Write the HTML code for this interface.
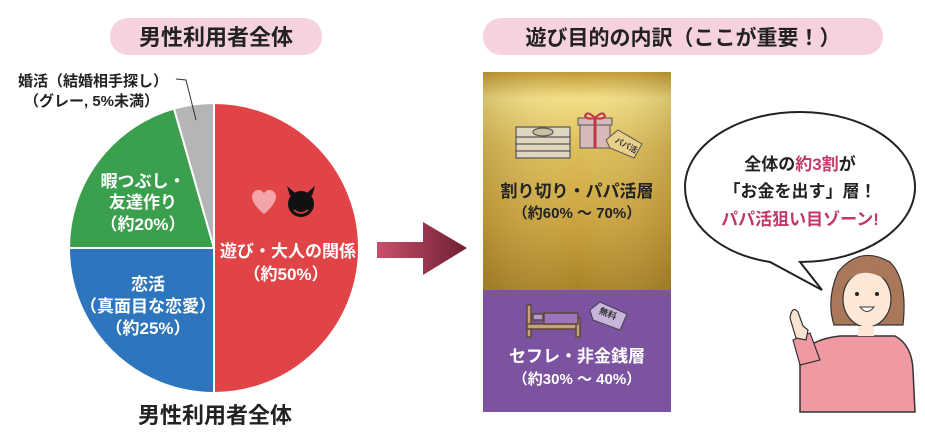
<!DOCTYPE html>
<html><head><meta charset="utf-8"><style>
body{margin:0;background:#fff;}
svg text{font-family:"Liberation Sans","Noto Sans CJK JP",sans-serif;font-weight:bold;}
</style></head><body>
<svg width="925" height="442" viewBox="0 0 925 442" xmlns="http://www.w3.org/2000/svg">
<defs>
<linearGradient id="gold" x1="0" y1="0" x2="0" y2="1">
<stop offset="0" stop-color="#c29a32"/><stop offset="0.12" stop-color="#f2de86"/><stop offset="0.35" stop-color="#ddbd58"/><stop offset="0.7" stop-color="#c9a23c"/><stop offset="1" stop-color="#a88327"/>
</linearGradient>
<linearGradient id="goldh" x1="0" y1="0" x2="1" y2="0">
<stop offset="0" stop-color="#6a4d10" stop-opacity="0.2"/><stop offset="0.5" stop-color="#fff" stop-opacity="0"/><stop offset="1" stop-color="#6a4d10" stop-opacity="0.2"/>
</linearGradient>
<linearGradient id="arr" x1="0" y1="0" x2="1" y2="0">
<stop offset="0" stop-color="#c8506a"/><stop offset="1" stop-color="#6e1f34"/>
</linearGradient>
</defs>
<rect x="110" y="18" width="212" height="37" rx="18" fill="#f6d3dc"/>
<text x="216" y="45" font-size="22" text-anchor="middle" fill="#222">男性利用者全体</text>
<rect x="483" y="18" width="400" height="37" rx="18" fill="#f6d3dc"/>
<text x="683" y="45" font-size="21" text-anchor="middle" fill="#222">遊び目的の内訳（ここが重要！）</text>
<path d="M214,248 L214,103 A145,145 0 0 1 214,393 Z" fill="#e04446" stroke="#fff" stroke-width="2"/>
<path d="M214,248 L214,393 A145,145 0 0 1 69,248 Z" fill="#2d75bd" stroke="#fff" stroke-width="2"/>
<path d="M214,248 L69,248 A145,145 0 0 1 174,108.6 Z" fill="#3aa04e" stroke="#fff" stroke-width="2"/>
<path d="M214,248 L174,108.6 A145,145 0 0 1 214,103 Z" fill="#b5b5b5" stroke="#fff" stroke-width="2"/>
<polyline points="196,120 186,80 176,79" fill="none" stroke="#333" stroke-width="1"/>
<text x="18" y="86" font-size="15" fill="#222">婚活（結婚相手探し）</text>
<text x="24" y="106" font-size="15" fill="#222">（グレー, 5%未満）</text>
<g fill="#fff" text-anchor="middle" font-size="17">
<text x="143" y="187">暇つぶし・</text>
<text x="143" y="208">友達作り</text>
<text x="143" y="230">（約20%）</text>
<text x="148" y="290">恋活</text>
<text x="148" y="312">（真面目な恋愛）</text>
<text x="148" y="334">（約25%）</text>
<text x="288" y="257">遊び・大人の関係</text>
<text x="286" y="280">（約50%）</text>
</g>
<path d="M264,214 C254,206 248,196 255,191 C260,188 264,192 264,194 C264,192 268,188 273,191 C280,196 274,206 264,214 Z" fill="#f4a3a8"/>
<circle cx="301" cy="204" r="13" fill="#111"/>
<path d="M290,196 L287,186 L295,193 Z M312,196 L315,186 L307,193 Z" fill="#111"/>
<path d="M294,210 Q301,216 308,210" stroke="#e04446" stroke-width="1.5" fill="none"/>
<text x="215" y="423" font-size="22" text-anchor="middle" fill="#222">男性利用者全体</text>
<path d="M377,242 L423,242 L423,222 L467,248 L423,275 L423,258 L377,258 Z" fill="url(#arr)"/>
<rect x="483" y="72" width="188" height="218" fill="url(#gold)"/>
<rect x="483" y="72" width="188" height="218" fill="url(#goldh)"/>
<rect x="483" y="290" width="188" height="122" fill="#7c53a0"/>
<g stroke="#555" stroke-width="1.2" fill="#e0d6bf">
<rect x="516" y="150" width="54" height="8"/><rect x="516" y="143" width="54" height="8"/><rect x="516" y="136" width="54" height="8"/><rect x="516" y="127" width="54" height="10"/>
<ellipse cx="543" cy="132" rx="10" ry="4" fill="#cbbf9f"/>
</g>
<rect x="580" y="124" width="30" height="24" fill="#d8b9b9" stroke="#555"/>
<rect x="578" y="118" width="34" height="7" fill="#d8b9b9" stroke="#555"/>
<line x1="595" y1="118" x2="595" y2="148" stroke="#c0354a" stroke-width="3"/>
<path d="M595,118 q-8,-8 -10,-2 q2,4 10,2 q8,-8 10,-2 q-2,4 -10,2" fill="none" stroke="#c0354a" stroke-width="2"/>
<path d="M606,140 L618,130 L642,144 L634,158 L610,148 Z" fill="#e9d08a" stroke="#555"/>
<text x="614" y="147" font-size="8" fill="#333" transform="rotate(28 624 145)">パパ活</text>
<text x="577" y="197" font-size="17" text-anchor="middle" fill="#222">割り切り・パパ活層</text>
<text x="577" y="218" font-size="15" text-anchor="middle" fill="#222">（約60% 〜 70%）</text>
<g stroke="#5a4a3a" stroke-width="1.5">
<rect x="527" y="305" width="4" height="32" fill="#c9a07a"/>
<rect x="527" y="324" width="52" height="5" fill="#c9a07a"/>
<rect x="576" y="318" width="4" height="19" fill="#c9a07a"/>
<rect x="533" y="314" width="10" height="6" fill="#b79acb"/>
<rect x="544" y="313" width="34" height="11" fill="#9b74bd"/>
</g>
<path d="M590,310 L600,302 L627,314 L620,330 L593,320 Z" fill="#c9b5dc" stroke="#444"/>
<text x="598" y="317" font-size="9" fill="#333" transform="rotate(22 608 316)">無料</text>
<text x="577" y="362" font-size="17" text-anchor="middle" fill="#fff">セフレ・非金銭層</text>
<text x="577" y="384" font-size="15" text-anchor="middle" fill="#fff">（約30% 〜 40%）</text>
<path d="M800,112 C864,112 915,146 915,187 C915,228 864,262 800,262 L822,290 L770,262 C720,254 685,224 685,187 C685,146 736,112 800,112 Z" fill="#fff" stroke="#222" stroke-width="2"/>
<text x="800" y="170" font-size="17" text-anchor="middle" fill="#222">全体の<tspan fill="#c2386a">約3割</tspan>が</text>
<text x="800" y="197" font-size="17" text-anchor="middle" fill="#222">「お金を出す」層！</text>
<text x="800" y="225" font-size="17" text-anchor="middle" fill="#c2386a">パパ活狙い目ゾーン!</text>
<path d="M800,412 L800,360 Q805,340 840,336 L895,336 Q912,345 913,370 L915,412 Z" fill="#ef9aa2" stroke="#333" stroke-width="1.5"/>
<path d="M800,365 L793,340 L810,333 L820,360 Z" fill="#ef9aa2" stroke="#333" stroke-width="1.2"/>
<path d="M796,338 L790,318 Q792,305 798,312 L803,326 L808,330 L806,340 Z" fill="#fbe3d2" stroke="#333" stroke-width="1.2"/>
<path d="M834,325 Q826,300 838,272 Q860,245 890,262 Q908,280 903,325 Z" fill="#a9775a" stroke="#333" stroke-width="1.2"/>
<ellipse cx="867" cy="299" rx="24" ry="28" fill="#fde7d6" stroke="#333" stroke-width="1.2"/>
<path d="M845,285 Q860,262 890,282 Q880,262 860,262 Q846,268 845,285 Z" fill="#a9775a"/>
<circle cx="857" cy="294" r="2" fill="#222"/><circle cx="877" cy="294" r="2" fill="#222"/>
<path d="M860,307 Q867,316 874,307 Z" fill="#fff" stroke="#333"/>
<rect x="858" y="326" width="16" height="10" fill="#fde7d6"/>
</svg>
</body></html>
